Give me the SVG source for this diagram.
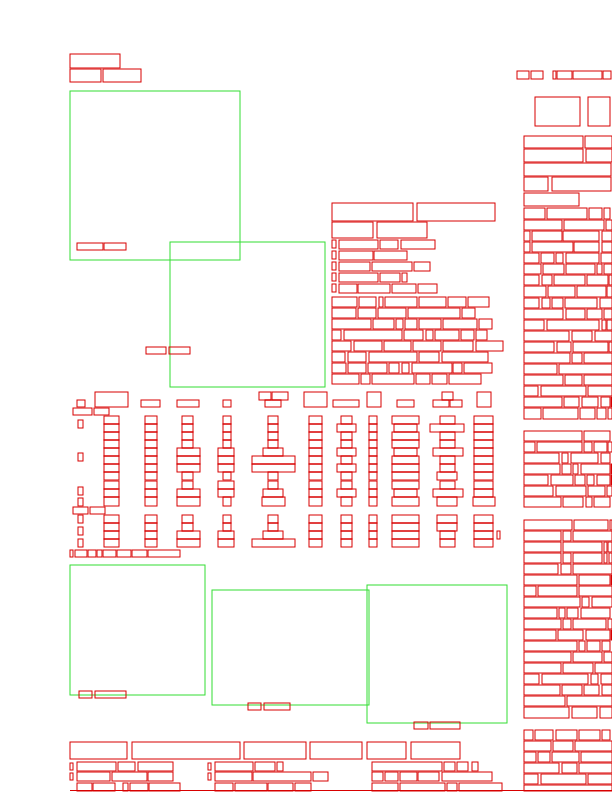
<svg xmlns="http://www.w3.org/2000/svg" width="612" height="792" viewBox="0 0 612 792">
<style>
.w{fill:none;stroke:#d80000;stroke-width:1}
.f{fill:none;stroke:#33dd33;stroke-width:1}
</style>
<rect width="612" height="792" fill="#ffffff"/>
<g id="figures">
<rect class="f" x="70" y="91" width="170" height="169"/>
<rect class="f" x="170" y="242" width="155" height="145"/>
<rect class="f" x="70" y="565" width="135" height="130"/>
<rect class="f" x="212" y="590" width="157" height="115"/>
<rect class="f" x="367" y="585" width="140" height="138"/>
</g>
<g id="header">
<rect class="w" x="70" y="54" width="50" height="14"/>
<rect class="w" x="70" y="69" width="31" height="13"/>
<rect class="w" x="103" y="69" width="38" height="13"/>
<rect class="w" x="517" y="71" width="12" height="8"/>
<rect class="w" x="531" y="71" width="12" height="8"/>
<rect class="w" x="553" y="71" width="3" height="8"/>
<rect class="w" x="557" y="71" width="15" height="8"/>
<rect class="w" x="573" y="71" width="29" height="8"/>
<rect class="w" x="603" y="71" width="8" height="8"/>
</g>
<g id="captions">
<rect class="w" x="77" y="243" width="26" height="7"/>
<rect class="w" x="104" y="243" width="22" height="7"/>
<rect class="w" x="146" y="347" width="20" height="7"/>
<rect class="w" x="169" y="347" width="21" height="7"/>
<rect class="w" x="79" y="691" width="13" height="7"/>
<rect class="w" x="95" y="691" width="31" height="7"/>
<rect class="w" x="248" y="703" width="13" height="7"/>
<rect class="w" x="264" y="703" width="26" height="7"/>
<rect class="w" x="414" y="722" width="14" height="7"/>
<rect class="w" x="430" y="722" width="30" height="7"/>
</g>
<g id="middle-text">
<rect class="w" x="332" y="203" width="81" height="18"/>
<rect class="w" x="417" y="203" width="78" height="18"/>
<rect class="w" x="332" y="222" width="41" height="16"/>
<rect class="w" x="377" y="222" width="50" height="16"/>
<rect class="w" x="332" y="240" width="4" height="8"/><rect class="w" x="339" y="240" width="39" height="9"/><rect class="w" x="380" y="240" width="18" height="9"/><rect class="w" x="401" y="240" width="34" height="9"/>
<rect class="w" x="332" y="251" width="4" height="8"/><rect class="w" x="339" y="251" width="34" height="9"/><rect class="w" x="374" y="251" width="33" height="9"/>
<rect class="w" x="332" y="262" width="4" height="8"/><rect class="w" x="339" y="262" width="31" height="9"/><rect class="w" x="372" y="262" width="40" height="9"/><rect class="w" x="414" y="262" width="16" height="9"/>
<rect class="w" x="332" y="273" width="4" height="8"/><rect class="w" x="339" y="273" width="39" height="9"/><rect class="w" x="380" y="273" width="20" height="9"/><rect class="w" x="402" y="273" width="5" height="9"/>
<rect class="w" x="332" y="284" width="4" height="8"/><rect class="w" x="339" y="284" width="18" height="9"/><rect class="w" x="358" y="284" width="32" height="9"/><rect class="w" x="392" y="284" width="24" height="9"/><rect class="w" x="418" y="284" width="19" height="9"/>
<rect class="w" x="332" y="297" width="25" height="10"/><rect class="w" x="359" y="297" width="17" height="10"/><rect class="w" x="379" y="297" width="4" height="10"/><rect class="w" x="385" y="297" width="32" height="10"/><rect class="w" x="419" y="297" width="27" height="10"/><rect class="w" x="448" y="297" width="18" height="10"/><rect class="w" x="468" y="297" width="21" height="10"/>
<rect class="w" x="332" y="308" width="24" height="10"/><rect class="w" x="358" y="308" width="18" height="10"/><rect class="w" x="378" y="308" width="28" height="10"/><rect class="w" x="408" y="308" width="52" height="10"/><rect class="w" x="462" y="308" width="13" height="10"/>
<rect class="w" x="332" y="319" width="39" height="10"/><rect class="w" x="373" y="319" width="21" height="10"/><rect class="w" x="396" y="319" width="7" height="10"/><rect class="w" x="405" y="319" width="12" height="10"/><rect class="w" x="419" y="319" width="22" height="10"/><rect class="w" x="443" y="319" width="34" height="10"/><rect class="w" x="479" y="319" width="13" height="10"/>
<rect class="w" x="332" y="330" width="9" height="10"/><rect class="w" x="344" y="330" width="58" height="10"/><rect class="w" x="404" y="330" width="19" height="10"/><rect class="w" x="426" y="330" width="7" height="10"/><rect class="w" x="435" y="330" width="24" height="10"/><rect class="w" x="461" y="330" width="13" height="10"/><rect class="w" x="476" y="330" width="11" height="10"/>
<rect class="w" x="332" y="341" width="19" height="10"/><rect class="w" x="354" y="341" width="28" height="10"/><rect class="w" x="384" y="341" width="27" height="10"/><rect class="w" x="413" y="341" width="28" height="10"/><rect class="w" x="443" y="341" width="30" height="10"/><rect class="w" x="476" y="341" width="27" height="10"/>
<rect class="w" x="332" y="352" width="13" height="10"/><rect class="w" x="348" y="352" width="18" height="10"/><rect class="w" x="369" y="352" width="48" height="10"/><rect class="w" x="419" y="352" width="20" height="10"/><rect class="w" x="442" y="352" width="46" height="10"/>
<rect class="w" x="332" y="363" width="14" height="10"/><rect class="w" x="348" y="363" width="18" height="10"/><rect class="w" x="368" y="363" width="19" height="10"/><rect class="w" x="389" y="363" width="10" height="10"/><rect class="w" x="402" y="363" width="7" height="10"/><rect class="w" x="412" y="363" width="40" height="10"/><rect class="w" x="453" y="363" width="9" height="10"/><rect class="w" x="464" y="363" width="28" height="10"/>
<rect class="w" x="332" y="374" width="27" height="10"/><rect class="w" x="361" y="374" width="9" height="10"/><rect class="w" x="372" y="374" width="42" height="10"/><rect class="w" x="416" y="374" width="14" height="10"/><rect class="w" x="432" y="374" width="15" height="10"/><rect class="w" x="449" y="374" width="32" height="10"/>
</g>
<g id="table">
<rect class="w" x="95" y="392" width="33" height="15"/>
<rect class="w" x="77" y="400" width="8" height="7"/>
<rect class="w" x="73" y="408" width="19" height="7"/>
<rect class="w" x="94" y="408" width="15" height="7"/>
<rect class="w" x="141" y="400" width="19" height="7"/>
<rect class="w" x="177" y="400" width="22" height="7"/>
<rect class="w" x="223" y="400" width="8" height="7"/>
<rect class="w" x="259" y="392" width="12" height="8"/>
<rect class="w" x="272" y="392" width="16" height="8"/>
<rect class="w" x="265" y="400" width="16" height="7"/>
<rect class="w" x="304" y="392" width="23" height="15"/>
<rect class="w" x="333" y="400" width="26" height="7"/>
<rect class="w" x="367" y="392" width="14" height="15"/>
<rect class="w" x="397" y="400" width="17" height="7"/>
<rect class="w" x="442" y="392" width="11" height="8"/>
<rect class="w" x="433" y="400" width="16" height="7"/>
<rect class="w" x="450" y="400" width="12" height="7"/>
<rect class="w" x="477" y="392" width="14" height="15"/>
<rect class="w" x="78" y="420" width="5" height="8"/>
<rect class="w" x="78" y="453" width="5" height="8"/>
<rect class="w" x="78" y="487" width="5" height="8"/>
<rect class="w" x="78" y="498" width="5" height="8"/>
<rect class="w" x="73" y="507" width="15" height="7"/>
<rect class="w" x="90" y="507" width="15" height="7"/>
<rect class="w" x="78" y="515" width="5" height="8"/>
<rect class="w" x="78" y="527" width="5" height="8"/>
<rect class="w" x="78" y="539" width="5" height="8"/>
<g transform="translate(0,416)">
<rect class="w" x="104" y="0" width="15" height="8"/><rect class="w" x="145" y="0" width="12" height="8"/><rect class="w" x="182" y="0" width="11" height="8"/><rect class="w" x="223" y="0" width="8" height="8"/><rect class="w" x="268" y="0" width="10" height="8"/><rect class="w" x="309" y="0" width="13" height="8"/><rect class="w" x="341" y="0" width="11" height="8"/><rect class="w" x="369" y="0" width="8" height="8"/><rect class="w" x="392" y="0" width="27" height="8"/><rect class="w" x="440" y="0" width="15" height="8"/><rect class="w" x="474" y="0" width="19" height="8"/>
</g>
<g transform="translate(0,424)">
<rect class="w" x="104" y="0" width="15" height="8"/><rect class="w" x="145" y="0" width="12" height="8"/><rect class="w" x="182" y="0" width="11" height="8"/><rect class="w" x="223" y="0" width="8" height="8"/><rect class="w" x="268" y="0" width="10" height="8"/><rect class="w" x="309" y="0" width="13" height="8"/><rect class="w" x="337" y="0" width="19" height="8"/><rect class="w" x="369" y="0" width="8" height="8"/><rect class="w" x="394" y="0" width="23" height="8"/><rect class="w" x="430" y="0" width="34" height="8"/><rect class="w" x="474" y="0" width="19" height="8"/>
</g>
<g transform="translate(0,432)">
<rect class="w" x="104" y="0" width="15" height="8"/><rect class="w" x="145" y="0" width="12" height="8"/><rect class="w" x="182" y="0" width="11" height="8"/><rect class="w" x="223" y="0" width="8" height="8"/><rect class="w" x="268" y="0" width="10" height="8"/><rect class="w" x="309" y="0" width="13" height="8"/><rect class="w" x="341" y="0" width="11" height="8"/><rect class="w" x="369" y="0" width="8" height="8"/><rect class="w" x="392" y="0" width="27" height="8"/><rect class="w" x="440" y="0" width="15" height="8"/><rect class="w" x="474" y="0" width="19" height="8"/>
</g>
<g transform="translate(0,440)">
<rect class="w" x="104" y="0" width="15" height="8"/><rect class="w" x="145" y="0" width="12" height="8"/><rect class="w" x="182" y="0" width="11" height="8"/><rect class="w" x="223" y="0" width="8" height="8"/><rect class="w" x="268" y="0" width="10" height="8"/><rect class="w" x="309" y="0" width="13" height="8"/><rect class="w" x="341" y="0" width="11" height="8"/><rect class="w" x="369" y="0" width="8" height="8"/><rect class="w" x="392" y="0" width="27" height="8"/><rect class="w" x="440" y="0" width="15" height="8"/><rect class="w" x="474" y="0" width="19" height="8"/>
</g>
<g transform="translate(0,448)">
<rect class="w" x="104" y="0" width="15" height="8"/><rect class="w" x="145" y="0" width="12" height="8"/><rect class="w" x="177" y="0" width="23" height="8"/><rect class="w" x="218" y="0" width="16" height="8"/><rect class="w" x="263" y="0" width="20" height="8"/><rect class="w" x="309" y="0" width="13" height="8"/><rect class="w" x="337" y="0" width="19" height="8"/><rect class="w" x="369" y="0" width="8" height="8"/><rect class="w" x="394" y="0" width="23" height="8"/><rect class="w" x="433" y="0" width="30" height="8"/><rect class="w" x="474" y="0" width="19" height="8"/>
</g>
<g transform="translate(0,456)">
<rect class="w" x="104" y="0" width="15" height="8"/><rect class="w" x="145" y="0" width="12" height="8"/><rect class="w" x="177" y="0" width="23" height="8"/><rect class="w" x="218" y="0" width="16" height="8"/><rect class="w" x="252" y="0" width="43" height="8"/><rect class="w" x="309" y="0" width="13" height="8"/><rect class="w" x="341" y="0" width="11" height="8"/><rect class="w" x="369" y="0" width="8" height="8"/><rect class="w" x="392" y="0" width="27" height="8"/><rect class="w" x="440" y="0" width="15" height="8"/><rect class="w" x="474" y="0" width="19" height="8"/>
</g>
<g transform="translate(0,464)">
<rect class="w" x="104" y="0" width="15" height="8"/><rect class="w" x="145" y="0" width="12" height="8"/><rect class="w" x="177" y="0" width="23" height="8"/><rect class="w" x="218" y="0" width="16" height="8"/><rect class="w" x="252" y="0" width="43" height="8"/><rect class="w" x="309" y="0" width="13" height="8"/><rect class="w" x="337" y="0" width="19" height="8"/><rect class="w" x="369" y="0" width="8" height="8"/><rect class="w" x="392" y="0" width="27" height="8"/><rect class="w" x="440" y="0" width="15" height="8"/><rect class="w" x="474" y="0" width="19" height="8"/>
</g>
<g transform="translate(0,472)">
<rect class="w" x="104" y="0" width="15" height="8"/><rect class="w" x="145" y="0" width="12" height="8"/><rect class="w" x="182" y="0" width="11" height="8"/><rect class="w" x="223" y="0" width="8" height="8"/><rect class="w" x="268" y="0" width="10" height="8"/><rect class="w" x="309" y="0" width="13" height="8"/><rect class="w" x="341" y="0" width="11" height="8"/><rect class="w" x="369" y="0" width="8" height="8"/><rect class="w" x="392" y="0" width="27" height="8"/><rect class="w" x="437" y="0" width="20" height="8"/><rect class="w" x="474" y="0" width="19" height="8"/>
</g>
<g transform="translate(0,481)">
<rect class="w" x="104" y="0" width="15" height="8"/><rect class="w" x="145" y="0" width="12" height="8"/><rect class="w" x="182" y="0" width="11" height="8"/><rect class="w" x="218" y="0" width="16" height="8"/><rect class="w" x="268" y="0" width="10" height="8"/><rect class="w" x="309" y="0" width="13" height="8"/><rect class="w" x="341" y="0" width="11" height="8"/><rect class="w" x="369" y="0" width="8" height="8"/><rect class="w" x="392" y="0" width="27" height="8"/><rect class="w" x="440" y="0" width="15" height="8"/><rect class="w" x="474" y="0" width="19" height="8"/>
</g>
<g transform="translate(0,489)">
<rect class="w" x="104" y="0" width="15" height="8"/><rect class="w" x="145" y="0" width="12" height="8"/><rect class="w" x="177" y="0" width="23" height="8"/><rect class="w" x="218" y="0" width="16" height="8"/><rect class="w" x="263" y="0" width="20" height="8"/><rect class="w" x="309" y="0" width="13" height="8"/><rect class="w" x="337" y="0" width="19" height="8"/><rect class="w" x="369" y="0" width="8" height="8"/><rect class="w" x="394" y="0" width="23" height="8"/><rect class="w" x="433" y="0" width="30" height="8"/><rect class="w" x="474" y="0" width="19" height="8"/>
</g>
<g transform="translate(0,497)">
<rect class="w" x="104" y="0" width="15" height="9"/><rect class="w" x="145" y="0" width="12" height="9"/><rect class="w" x="177" y="0" width="23" height="9"/><rect class="w" x="223" y="0" width="8" height="9"/><rect class="w" x="262" y="0" width="23" height="9"/><rect class="w" x="309" y="0" width="13" height="9"/><rect class="w" x="341" y="0" width="11" height="9"/><rect class="w" x="369" y="0" width="8" height="9"/><rect class="w" x="392" y="0" width="27" height="9"/><rect class="w" x="437" y="0" width="20" height="9"/><rect class="w" x="473" y="0" width="22" height="9"/>
</g>
<g transform="translate(0,515)">
<rect class="w" x="104" y="0" width="15" height="8"/><rect class="w" x="145" y="0" width="12" height="8"/><rect class="w" x="182" y="0" width="11" height="8"/><rect class="w" x="223" y="0" width="8" height="8"/><rect class="w" x="268" y="0" width="10" height="8"/><rect class="w" x="309" y="0" width="13" height="8"/><rect class="w" x="341" y="0" width="11" height="8"/><rect class="w" x="369" y="0" width="8" height="8"/><rect class="w" x="392" y="0" width="27" height="8"/><rect class="w" x="437" y="0" width="20" height="8"/><rect class="w" x="474" y="0" width="19" height="8"/>
</g>
<g transform="translate(0,523)">
<rect class="w" x="104" y="0" width="15" height="8"/><rect class="w" x="145" y="0" width="12" height="8"/><rect class="w" x="182" y="0" width="11" height="8"/><rect class="w" x="223" y="0" width="8" height="8"/><rect class="w" x="268" y="0" width="10" height="8"/><rect class="w" x="309" y="0" width="13" height="8"/><rect class="w" x="341" y="0" width="11" height="8"/><rect class="w" x="369" y="0" width="8" height="8"/><rect class="w" x="392" y="0" width="27" height="8"/><rect class="w" x="437" y="0" width="20" height="8"/><rect class="w" x="474" y="0" width="19" height="8"/>
</g>
<g transform="translate(0,531)">
<rect class="w" x="104" y="0" width="15" height="8"/><rect class="w" x="145" y="0" width="12" height="8"/><rect class="w" x="177" y="0" width="23" height="8"/><rect class="w" x="218" y="0" width="16" height="8"/><rect class="w" x="263" y="0" width="20" height="8"/><rect class="w" x="309" y="0" width="13" height="8"/><rect class="w" x="341" y="0" width="11" height="8"/><rect class="w" x="369" y="0" width="8" height="8"/><rect class="w" x="392" y="0" width="27" height="8"/><rect class="w" x="440" y="0" width="15" height="8"/><rect class="w" x="474" y="0" width="19" height="8"/><rect class="w" x="497" y="0" width="3" height="8"/>
</g>
<g transform="translate(0,539)">
<rect class="w" x="104" y="0" width="15" height="8"/><rect class="w" x="145" y="0" width="12" height="8"/><rect class="w" x="177" y="0" width="23" height="8"/><rect class="w" x="218" y="0" width="16" height="8"/><rect class="w" x="252" y="0" width="43" height="8"/><rect class="w" x="309" y="0" width="13" height="8"/><rect class="w" x="341" y="0" width="11" height="8"/><rect class="w" x="369" y="0" width="8" height="8"/><rect class="w" x="392" y="0" width="27" height="8"/><rect class="w" x="440" y="0" width="15" height="8"/><rect class="w" x="474" y="0" width="19" height="8"/>
</g>
<rect class="w" x="70" y="550" width="3" height="7"/><rect class="w" x="75" y="550" width="12" height="7"/><rect class="w" x="88" y="550" width="8" height="7"/><rect class="w" x="97" y="550" width="5" height="7"/><rect class="w" x="103" y="550" width="13" height="7"/><rect class="w" x="117" y="550" width="14" height="7"/><rect class="w" x="132" y="550" width="15" height="7"/><rect class="w" x="148" y="550" width="32" height="7"/>
</g>
<g id="right-column">
<rect class="w" x="535" y="97" width="45" height="29"/>
<rect class="w" x="588" y="97" width="22" height="29"/>
<rect class="w" x="524" y="136" width="59" height="12"/><rect class="w" x="585" y="136" width="27" height="12"/>
<rect class="w" x="524" y="149" width="59" height="13"/><rect class="w" x="586" y="149" width="26" height="13"/>
<rect class="w" x="524" y="163" width="87" height="13"/>
<rect class="w" x="524" y="177" width="24" height="14"/><rect class="w" x="552" y="177" width="59" height="14"/>
<rect class="w" x="524" y="193" width="55" height="13"/>
<rect class="w" x="524" y="208" width="21" height="11"/><rect class="w" x="547" y="208" width="40" height="11"/><rect class="w" x="589" y="208" width="13" height="11"/><rect class="w" x="604" y="208" width="6" height="11"/>
<rect class="w" x="524" y="220" width="38" height="10"/><rect class="w" x="564" y="220" width="40" height="10"/><rect class="w" x="606" y="220" width="6" height="10"/>
<rect class="w" x="524" y="231" width="6" height="10"/><rect class="w" x="532" y="231" width="30" height="10"/><rect class="w" x="563" y="231" width="36" height="10"/><rect class="w" x="602" y="231" width="10" height="10"/>
<rect class="w" x="524" y="242" width="6" height="10"/><rect class="w" x="532" y="242" width="41" height="10"/><rect class="w" x="574" y="242" width="25" height="10"/><rect class="w" x="602" y="242" width="10" height="10"/>
<rect class="w" x="524" y="253" width="15" height="10"/><rect class="w" x="541" y="253" width="13" height="10"/><rect class="w" x="556" y="253" width="7" height="10"/><rect class="w" x="566" y="253" width="33" height="10"/><rect class="w" x="601" y="253" width="11" height="10"/>
<rect class="w" x="524" y="264" width="17" height="10"/><rect class="w" x="543" y="264" width="21" height="10"/><rect class="w" x="566" y="264" width="29" height="10"/><rect class="w" x="597" y="264" width="5" height="10"/><rect class="w" x="604" y="264" width="8" height="10"/>
<rect class="w" x="524" y="275" width="15" height="10"/><rect class="w" x="542" y="275" width="10" height="10"/><rect class="w" x="554" y="275" width="31" height="10"/><rect class="w" x="587" y="275" width="21" height="10"/><rect class="w" x="609" y="275" width="3" height="10"/>
<rect class="w" x="524" y="286" width="22" height="11"/><rect class="w" x="548" y="286" width="27" height="11"/><rect class="w" x="577" y="286" width="29" height="11"/><rect class="w" x="607" y="286" width="5" height="11"/>
<rect class="w" x="524" y="298" width="15" height="10"/><rect class="w" x="542" y="298" width="8" height="10"/><rect class="w" x="552" y="298" width="11" height="10"/><rect class="w" x="565" y="298" width="32" height="10"/><rect class="w" x="600" y="298" width="12" height="10"/>
<rect class="w" x="524" y="309" width="39" height="10"/><rect class="w" x="566" y="309" width="19" height="10"/><rect class="w" x="587" y="309" width="15" height="10"/><rect class="w" x="604" y="309" width="8" height="10"/>
<rect class="w" x="524" y="320" width="20" height="10"/><rect class="w" x="547" y="320" width="52" height="10"/><rect class="w" x="602" y="320" width="4" height="10"/><rect class="w" x="607" y="320" width="5" height="10"/>
<rect class="w" x="524" y="331" width="45" height="10"/><rect class="w" x="572" y="331" width="20" height="10"/><rect class="w" x="595" y="331" width="17" height="10"/>
<rect class="w" x="524" y="342" width="30" height="10"/><rect class="w" x="557" y="342" width="14" height="10"/><rect class="w" x="573" y="342" width="35" height="10"/><rect class="w" x="609" y="342" width="3" height="10"/>
<rect class="w" x="524" y="353" width="46" height="10"/><rect class="w" x="572" y="353" width="10" height="10"/><rect class="w" x="584" y="353" width="28" height="10"/>
<rect class="w" x="524" y="364" width="33" height="10"/><rect class="w" x="559" y="364" width="53" height="10"/>
<rect class="w" x="524" y="375" width="39" height="10"/><rect class="w" x="565" y="375" width="17" height="10"/><rect class="w" x="584" y="375" width="28" height="10"/>
<rect class="w" x="524" y="386" width="14" height="10"/><rect class="w" x="541" y="386" width="45" height="10"/><rect class="w" x="588" y="386" width="24" height="10"/>
<rect class="w" x="524" y="397" width="38" height="10"/><rect class="w" x="564" y="397" width="15" height="10"/><rect class="w" x="582" y="397" width="16" height="10"/><rect class="w" x="601" y="397" width="9" height="10"/><rect class="w" x="611" y="397" width="1" height="10"/>
<rect class="w" x="524" y="408" width="17" height="11"/><rect class="w" x="543" y="408" width="35" height="11"/><rect class="w" x="580" y="408" width="15" height="11"/><rect class="w" x="597" y="408" width="9" height="11"/><rect class="w" x="608" y="408" width="4" height="11"/>
<rect class="w" x="524" y="431" width="58" height="10"/><rect class="w" x="584" y="431" width="26" height="10"/>
<rect class="w" x="524" y="442" width="11" height="10"/><rect class="w" x="537" y="442" width="45" height="10"/><rect class="w" x="584" y="442" width="8" height="10"/><rect class="w" x="594" y="442" width="13" height="10"/><rect class="w" x="608" y="442" width="4" height="10"/>
<rect class="w" x="524" y="453" width="35" height="10"/><rect class="w" x="562" y="453" width="6" height="10"/><rect class="w" x="571" y="453" width="27" height="10"/><rect class="w" x="601" y="453" width="9" height="10"/>
<rect class="w" x="524" y="464" width="36" height="10"/><rect class="w" x="562" y="464" width="9" height="10"/><rect class="w" x="573" y="464" width="5" height="10"/><rect class="w" x="581" y="464" width="29" height="10"/><rect class="w" x="611" y="464" width="1" height="10"/>
<rect class="w" x="524" y="475" width="24" height="10"/><rect class="w" x="551" y="475" width="22" height="10"/><rect class="w" x="575" y="475" width="10" height="10"/><rect class="w" x="587" y="475" width="7" height="10"/><rect class="w" x="597" y="475" width="13" height="10"/><rect class="w" x="611" y="475" width="1" height="10"/>
<rect class="w" x="524" y="486" width="29" height="10"/><rect class="w" x="556" y="486" width="30" height="10"/><rect class="w" x="588" y="486" width="17" height="10"/><rect class="w" x="607" y="486" width="5" height="10"/>
<rect class="w" x="524" y="497" width="37" height="10"/><rect class="w" x="563" y="497" width="20" height="10"/><rect class="w" x="586" y="497" width="6" height="10"/><rect class="w" x="594" y="497" width="16" height="10"/>
<rect class="w" x="524" y="520" width="48" height="10"/><rect class="w" x="574" y="520" width="34" height="10"/><rect class="w" x="610" y="520" width="2" height="10"/>
<rect class="w" x="524" y="531" width="37" height="10"/><rect class="w" x="563" y="531" width="8" height="10"/><rect class="w" x="573" y="531" width="39" height="10"/>
<rect class="w" x="524" y="542" width="37" height="10"/><rect class="w" x="563" y="542" width="39" height="10"/><rect class="w" x="604" y="542" width="3" height="10"/><rect class="w" x="608" y="542" width="4" height="10"/>
<rect class="w" x="524" y="553" width="37" height="10"/><rect class="w" x="563" y="553" width="8" height="10"/><rect class="w" x="573" y="553" width="29" height="10"/><rect class="w" x="604" y="553" width="3" height="10"/><rect class="w" x="609" y="553" width="3" height="10"/>
<rect class="w" x="524" y="564" width="34" height="10"/><rect class="w" x="561" y="564" width="10" height="10"/><rect class="w" x="573" y="564" width="39" height="10"/>
<rect class="w" x="524" y="575" width="53" height="10"/><rect class="w" x="579" y="575" width="31" height="10"/><rect class="w" x="611" y="575" width="1" height="10"/>
<rect class="w" x="524" y="586" width="12" height="10"/><rect class="w" x="538" y="586" width="39" height="10"/><rect class="w" x="579" y="586" width="33" height="10"/>
<rect class="w" x="524" y="597" width="56" height="10"/><rect class="w" x="582" y="597" width="7" height="10"/><rect class="w" x="592" y="597" width="20" height="10"/>
<rect class="w" x="524" y="608" width="33" height="10"/><rect class="w" x="559" y="608" width="6" height="10"/><rect class="w" x="567" y="608" width="11" height="10"/><rect class="w" x="581" y="608" width="29" height="10"/>
<rect class="w" x="524" y="619" width="37" height="10"/><rect class="w" x="563" y="619" width="8" height="10"/><rect class="w" x="573" y="619" width="33" height="10"/><rect class="w" x="608" y="619" width="4" height="10"/>
<rect class="w" x="524" y="630" width="32" height="10"/><rect class="w" x="558" y="630" width="25" height="10"/><rect class="w" x="586" y="630" width="24" height="10"/><rect class="w" x="611" y="630" width="1" height="10"/>
<rect class="w" x="524" y="641" width="53" height="10"/><rect class="w" x="579" y="641" width="6" height="10"/><rect class="w" x="587" y="641" width="13" height="10"/><rect class="w" x="602" y="641" width="8" height="10"/>
<rect class="w" x="524" y="652" width="47" height="10"/><rect class="w" x="573" y="652" width="29" height="10"/><rect class="w" x="604" y="652" width="8" height="10"/>
<rect class="w" x="524" y="663" width="37" height="10"/><rect class="w" x="563" y="663" width="30" height="10"/><rect class="w" x="595" y="663" width="17" height="10"/>
<rect class="w" x="524" y="674" width="15" height="10"/><rect class="w" x="542" y="674" width="46" height="10"/><rect class="w" x="591" y="674" width="7" height="10"/><rect class="w" x="601" y="674" width="11" height="10"/>
<rect class="w" x="524" y="685" width="36" height="10"/><rect class="w" x="562" y="685" width="20" height="10"/><rect class="w" x="584" y="685" width="15" height="10"/><rect class="w" x="602" y="685" width="10" height="10"/>
<rect class="w" x="524" y="696" width="41" height="10"/><rect class="w" x="567" y="696" width="45" height="10"/>
<rect class="w" x="524" y="707" width="45" height="11"/><rect class="w" x="572" y="707" width="25" height="11"/><rect class="w" x="600" y="707" width="12" height="11"/>
<rect class="w" x="524" y="730" width="9" height="10"/><rect class="w" x="535" y="730" width="18" height="10"/><rect class="w" x="556" y="730" width="21" height="10"/><rect class="w" x="579" y="730" width="21" height="10"/><rect class="w" x="602" y="730" width="8" height="10"/>
<rect class="w" x="524" y="741" width="27" height="10"/><rect class="w" x="553" y="741" width="20" height="10"/><rect class="w" x="575" y="741" width="37" height="10"/>
<rect class="w" x="524" y="752" width="12" height="10"/><rect class="w" x="538" y="752" width="12" height="10"/><rect class="w" x="552" y="752" width="27" height="10"/><rect class="w" x="581" y="752" width="31" height="10"/>
<rect class="w" x="524" y="763" width="35" height="10"/><rect class="w" x="562" y="763" width="15" height="10"/><rect class="w" x="579" y="763" width="33" height="10"/>
<rect class="w" x="524" y="774" width="14" height="10"/><rect class="w" x="541" y="774" width="45" height="10"/><rect class="w" x="588" y="774" width="24" height="10"/>
<rect class="w" x="524" y="785" width="88" height="6"/>
</g>
<g id="footer">
<rect class="w" x="70" y="742" width="57" height="17"/>
<rect class="w" x="132" y="742" width="108" height="17"/>
<rect class="w" x="244" y="742" width="62" height="17"/>
<rect class="w" x="310" y="742" width="52" height="17"/>
<rect class="w" x="367" y="742" width="39" height="17"/>
<rect class="w" x="411" y="742" width="49" height="17"/>
<rect class="w" x="70" y="763" width="3" height="7"/><rect class="w" x="77" y="762" width="39" height="9"/><rect class="w" x="118" y="762" width="17" height="9"/><rect class="w" x="138" y="762" width="35" height="9"/>
<rect class="w" x="208" y="763" width="3" height="7"/><rect class="w" x="215" y="762" width="38" height="9"/><rect class="w" x="255" y="762" width="20" height="9"/><rect class="w" x="277" y="762" width="6" height="9"/>
<rect class="w" x="372" y="762" width="70" height="9"/><rect class="w" x="444" y="762" width="11" height="9"/><rect class="w" x="457" y="762" width="11" height="9"/><rect class="w" x="472" y="762" width="6" height="9"/>
<rect class="w" x="70" y="773" width="3" height="7"/><rect class="w" x="77" y="772" width="33" height="9"/><rect class="w" x="112" y="772" width="35" height="9"/><rect class="w" x="148" y="772" width="25" height="9"/>
<rect class="w" x="208" y="773" width="3" height="7"/><rect class="w" x="215" y="772" width="37" height="9"/><rect class="w" x="253" y="772" width="58" height="9"/><rect class="w" x="313" y="772" width="15" height="9"/>
<rect class="w" x="372" y="772" width="11" height="9"/><rect class="w" x="385" y="772" width="13" height="9"/><rect class="w" x="400" y="772" width="17" height="9"/><rect class="w" x="418" y="772" width="21" height="9"/><rect class="w" x="442" y="772" width="50" height="9"/>
<rect class="w" x="77" y="783" width="15" height="8"/><rect class="w" x="93" y="783" width="22" height="8"/><rect class="w" x="123" y="783" width="5" height="8"/><rect class="w" x="130" y="783" width="18" height="8"/><rect class="w" x="149" y="783" width="31" height="8"/>
<rect class="w" x="215" y="783" width="18" height="8"/><rect class="w" x="235" y="783" width="32" height="8"/><rect class="w" x="268" y="783" width="25" height="8"/><rect class="w" x="295" y="783" width="16" height="8"/>
<rect class="w" x="372" y="783" width="26" height="8"/><rect class="w" x="400" y="783" width="45" height="8"/><rect class="w" x="447" y="783" width="10" height="8"/><rect class="w" x="459" y="783" width="43" height="8"/>
<line x1="70" y1="790.5" x2="612" y2="790.5" stroke="#d80000" stroke-width="1"/>
</g>
</svg>
